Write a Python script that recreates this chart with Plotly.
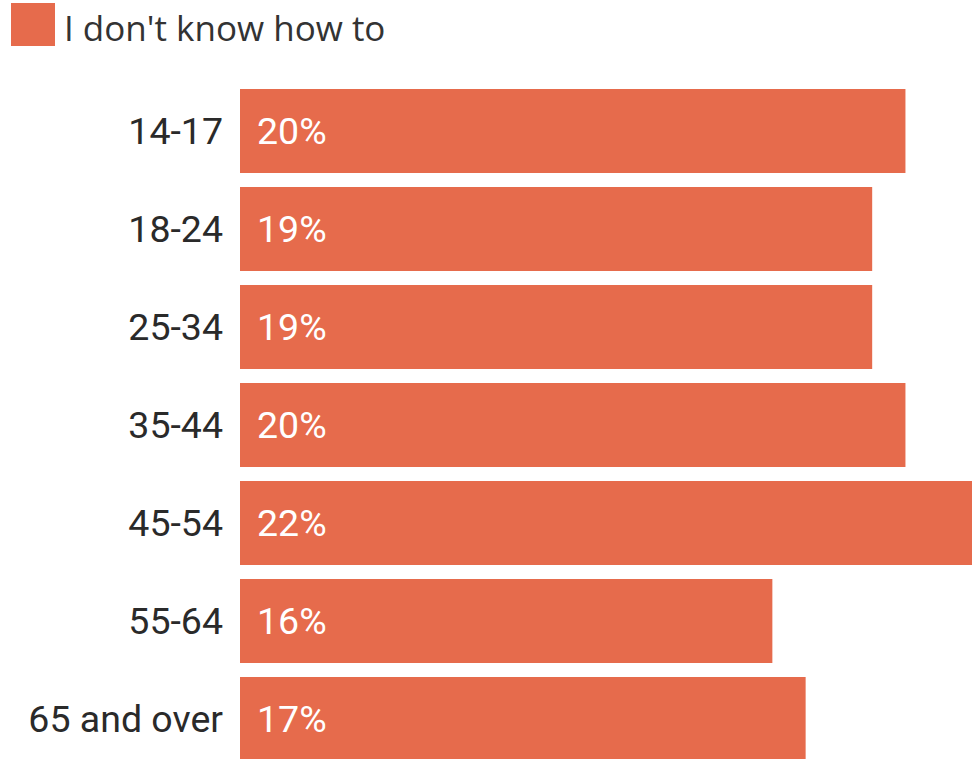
import plotly.graph_objects as go

categories = ["14-17", "18-24", "25-34", "35-44", "45-54", "55-64", "65 and over"]
values = [20, 19, 19, 20, 22, 16, 17]
labels = ["20%", "19%", "19%", "20%", "22%", "16%", "17%"]
series_name = "I don't know how to"

BAR = "#E66B4C"
W, H = 972, 759
L, T = 240, 82
pw, ph = W - L, H - T

fig = go.Figure()
fig.add_trace(go.Bar(
    y=categories, x=values, orientation="h",
    marker=dict(color=BAR, line=dict(width=0)),
    name=series_name, showlegend=False, hoverinfo="skip",
))

annotations = []
for c, v, t in zip(categories, values, labels):
    annotations.append(dict(
        x=0, y=c, xref="x", yref="y", text=t, showarrow=False,
        xanchor="left", yanchor="middle", xshift=15,
        font=dict(family="Roboto", size=37.5, color="white"),
    ))

def px2paper_x(px):
    return (px - L) / pw

def px2paper_y(py):
    return (H - py) / ph

annotations.append(dict(
    x=px2paper_x(62), y=px2paper_y(27), xref="paper", yref="paper",
    text=series_name, showarrow=False, xanchor="left", yanchor="middle",
    font=dict(family="Open Sans", size=35, color="#333333"),
))

fig.add_shape(type="rect", xref="paper", yref="paper",
              x0=px2paper_x(11), x1=px2paper_x(55),
              y0=px2paper_y(46), y1=px2paper_y(3),
              fillcolor=BAR, line=dict(width=0))

fig.update_layout(
    width=W, height=H,
    margin=dict(l=L, r=0, t=T, b=0, pad=0),
    paper_bgcolor="white", plot_bgcolor="white",
    bargap=0.143,
    annotations=annotations,
    xaxis=dict(range=[0, 22], visible=False, fixedrange=True),
    yaxis=dict(
        categoryorder="array", categoryarray=categories,
        range=[6.408, -0.5], showgrid=False, zeroline=False, showline=False,
        ticks="", ticklabelstandoff=16,
        tickfont=dict(family="Roboto", size=37.5, color="#2a2a2a"),
    ),
)

fig.write_html("out.html", config={"displayModeBar": False})
